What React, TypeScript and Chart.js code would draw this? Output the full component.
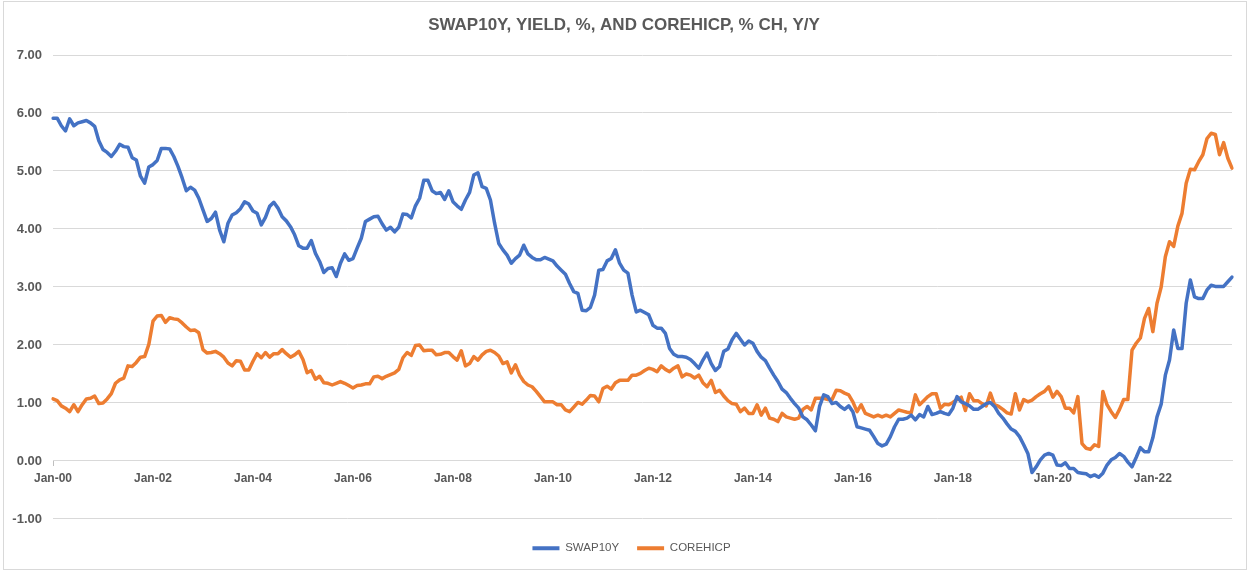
import React, { useEffect, useRef } from 'react';
import { Chart, registerables } from 'chart.js';

Chart.register(...registerables);

// ---------- data ----------
const TITLE = 'SWAP10Y, YIELD, %, AND COREHICP, % CH, Y/Y';
const MONTH_NAMES = ['Jan', 'Feb', 'Mar', 'Apr', 'May', 'Jun', 'Jul', 'Aug', 'Sep', 'Oct', 'Nov', 'Dec'];
const FIRST_YEAR = 2000;
const SERIES_NAMES = ['SWAP10Y', 'COREHICP'];

// SWAP10Y, yield %, monthly Jan-00 .. Aug-23
const swap10y = [
  5.91, 5.91, 5.78, 5.69, 5.90, 5.78, 5.83, 5.85, 5.87, 5.83,
  5.77, 5.52, 5.37, 5.32, 5.25, 5.34, 5.46, 5.42, 5.41, 5.23,
  5.19, 4.91, 4.79, 5.07, 5.11, 5.18, 5.39, 5.39, 5.38, 5.25,
  5.08, 4.88, 4.66, 4.72, 4.67, 4.53, 4.33, 4.13, 4.18, 4.29,
  3.98, 3.78, 4.10, 4.24, 4.28, 4.35, 4.47, 4.43, 4.31, 4.27,
  4.07, 4.20, 4.39, 4.46, 4.36, 4.21, 4.14, 4.04, 3.90, 3.71,
  3.67, 3.67, 3.80, 3.58, 3.44, 3.25, 3.32, 3.33, 3.18, 3.41,
  3.57, 3.46, 3.49, 3.67, 3.84, 4.13, 4.17, 4.21, 4.22, 4.09,
  3.98, 4.03, 3.95, 4.03, 4.26, 4.25, 4.19, 4.40, 4.53, 4.84,
  4.84, 4.66, 4.61, 4.63, 4.51, 4.66, 4.47, 4.40, 4.34, 4.50,
  4.63, 4.93, 4.97, 4.73, 4.70, 4.50, 4.10, 3.75, 3.64, 3.55,
  3.41, 3.49, 3.55, 3.72, 3.57, 3.51, 3.47, 3.47, 3.51, 3.48,
  3.45, 3.36, 3.29, 3.22, 3.06, 2.92, 2.89, 2.60, 2.59, 2.65,
  2.86, 3.29, 3.30, 3.45, 3.49, 3.64, 3.41, 3.29, 3.24, 2.86,
  2.57, 2.60, 2.56, 2.52, 2.34, 2.29, 2.29, 2.20, 1.94, 1.84,
  1.80, 1.80, 1.79, 1.75, 1.68, 1.60, 1.74, 1.86, 1.68, 1.56,
  1.63, 1.89, 1.93, 2.09, 2.20, 2.10, 2.00, 2.07, 2.03, 1.89,
  1.79, 1.73, 1.60, 1.48, 1.37, 1.24, 1.18, 1.08, 0.99, 0.91,
  0.76, 0.71, 0.62, 0.52, 0.94, 1.14, 1.11, 0.99, 1.01, 0.94,
  0.89, 0.95, 0.85, 0.59, 0.57, 0.55, 0.53, 0.42, 0.30, 0.26,
  0.29, 0.42, 0.59, 0.72, 0.72, 0.74, 0.79, 0.71, 0.80, 0.76,
  0.94, 0.80, 0.82, 0.85, 0.82, 0.80, 0.91, 1.11, 1.02, 0.99,
  0.95, 0.89, 0.89, 0.94, 0.99, 1.01, 0.94, 0.82, 0.74, 0.64,
  0.55, 0.51, 0.42, 0.28, 0.13, -0.20, -0.10, 0.02, 0.10, 0.13,
  0.10, -0.07, -0.08, -0.03, -0.13, -0.13, -0.20, -0.21, -0.22, -0.27,
  -0.24, -0.28, -0.21, -0.07, 0.02, 0.06, 0.13, 0.08, -0.02, -0.10,
  0.06, 0.23, 0.16, 0.16, 0.40, 0.76, 0.98, 1.48, 1.74, 2.26,
  1.94, 1.94, 2.72, 3.12, 2.83, 2.80, 2.80, 2.95, 3.03, 3.01,
  3.01, 3.01, 3.09, 3.17,
];

// COREHICP, % ch y/y, monthly Jan-00 .. Aug-23
const coreHicp = [
  1.07, 1.04, 0.95, 0.91, 0.85, 0.97, 0.85, 0.97, 1.07, 1.08,
  1.12, 0.99, 1.00, 1.07, 1.16, 1.34, 1.40, 1.43, 1.64, 1.63,
  1.70, 1.79, 1.80, 2.01, 2.41, 2.50, 2.51, 2.39, 2.47, 2.45,
  2.44, 2.38, 2.31, 2.25, 2.26, 2.21, 1.92, 1.86, 1.87, 1.89,
  1.85, 1.79, 1.69, 1.64, 1.73, 1.72, 1.57, 1.57, 1.72, 1.85,
  1.78, 1.87, 1.79, 1.85, 1.85, 1.92, 1.85, 1.79, 1.83, 1.89,
  1.75, 1.52, 1.56, 1.41, 1.46, 1.35, 1.34, 1.31, 1.34, 1.37,
  1.34, 1.30, 1.26, 1.30, 1.31, 1.33, 1.33, 1.45, 1.46, 1.42,
  1.46, 1.49, 1.52, 1.58, 1.78, 1.87, 1.82, 1.99, 2.00, 1.90,
  1.91, 1.91, 1.83, 1.84, 1.87, 1.87, 1.80, 1.74, 1.90, 1.64,
  1.68, 1.80, 1.74, 1.83, 1.89, 1.91, 1.87, 1.81, 1.68, 1.71,
  1.52, 1.66, 1.48, 1.37, 1.31, 1.28, 1.20, 1.11, 1.02, 1.02,
  1.02, 0.97, 0.97, 0.88, 0.85, 0.93, 1.01, 0.98, 1.05, 1.13,
  1.12, 1.02, 1.25, 1.29, 1.24, 1.35, 1.39, 1.39, 1.39, 1.48,
  1.48, 1.51, 1.56, 1.60, 1.58, 1.54, 1.64, 1.58, 1.54, 1.60,
  1.64, 1.45, 1.50, 1.48, 1.43, 1.48, 1.35, 1.28, 1.39, 1.18,
  1.22, 1.12, 1.04, 0.99, 0.98, 0.85, 0.91, 0.82, 0.82, 0.97,
  0.79, 0.91, 0.74, 0.72, 0.68, 0.82, 0.76, 0.74, 0.72, 0.74,
  0.89, 0.94, 0.88, 1.08, 1.08, 1.08, 1.06, 1.06, 1.22, 1.21,
  1.17, 1.14, 1.02, 0.85, 0.97, 0.82, 0.79, 0.76, 0.79, 0.76,
  0.79, 0.76, 0.82, 0.88, 0.86, 0.84, 0.83, 1.14, 0.97, 1.04,
  1.11, 1.16, 1.16, 0.91, 0.98, 0.97, 1.01, 1.06, 1.10, 0.87,
  1.16, 1.04, 1.04, 0.99, 0.95, 1.17, 0.97, 0.94, 0.89, 0.83,
  0.81, 1.16, 0.88, 1.06, 1.02, 1.05, 1.11, 1.16, 1.20, 1.28,
  1.10, 1.20, 1.11, 0.91, 0.91, 0.83, 1.11, 0.30, 0.22, 0.20,
  0.28, 0.25, 1.20, 0.97, 0.85, 0.75, 0.89, 1.06, 1.06, 1.91,
  2.03, 2.12, 2.46, 2.63, 2.23, 2.72, 3.00, 3.52, 3.78, 3.70,
  4.05, 4.27, 4.79, 5.03, 5.02, 5.16, 5.28, 5.56, 5.65, 5.63,
  5.28, 5.49, 5.22, 5.05,
];

// category labels: "Jan-00", "Feb-00", ...
const categories = swap10y.map((_, i) => {
  const yy = String((FIRST_YEAR + Math.floor(i / 12)) % 100).padStart(2, '0');
  return `${MONTH_NAMES[i % 12]}-${yy}`;
});
const LABEL_EVERY = 24; // Jan-00, Jan-02, ...
const Y_MIN = -1;
const Y_MAX = 7;
const Y_STEP = 1;

// ---------- styles ----------
const FONT = "'Liberation Sans', Arial, sans-serif";
const TEXT = '#595959';
const GRID = '#d9d9d9';
const BLUE = '#4472C4';
const ORANGE = '#ED7D31';

// nudge the centred legend and title a little to the right, as in the original
const centreNudge = {
  id: 'centreNudge',
  afterLayout(chart: any) {
    const l = chart.legend;
    if (l) {
      l.left += 11.5;
      l.right += 11.5;
    }
    const t = chart.titleBlock;
    if (t) {
      t.left += 4;
      t.right += 4;
    }
  },
};

export default function App() {
  const ref = useRef<HTMLCanvasElement>(null);

  useEffect(() => {
    document.body.style.margin = '0';
    document.body.style.overflow = 'hidden';
    const canvas = ref.current;
    if (!canvas) return;
    const chart = new Chart(canvas, {
      type: 'line',
      data: {
        labels: categories,
        datasets: [
          {
            label: SERIES_NAMES[0],
            data: swap10y,
            borderColor: BLUE,
            backgroundColor: BLUE,
            borderWidth: 3.5,
            pointRadius: 0,
            pointHoverRadius: 0,
            tension: 0,
            borderJoinStyle: 'round',
            borderCapStyle: 'round',
            fill: false,
          },
          {
            label: SERIES_NAMES[1],
            data: coreHicp,
            borderColor: ORANGE,
            backgroundColor: ORANGE,
            borderWidth: 3.5,
            pointRadius: 0,
            pointHoverRadius: 0,
            tension: 0,
            borderJoinStyle: 'round',
            borderCapStyle: 'round',
            fill: false,
          },
        ],
      },
      options: {
        responsive: false,
        animation: false,
        events: [],
        layout: { padding: { left: 8, right: 16, top: 0, bottom: 7 } },
        plugins: {
          title: {
            display: true,
            text: TITLE,
            color: TEXT,
            font: { family: FONT, size: 17, weight: 'bold' },
            padding: { top: 15.5, bottom: 19.1 },
          },
          legend: {
            position: 'bottom',
            fullSize: true,
            title: { display: true, text: ' ', padding: 0, font: { size: 4.6 } },
            labels: {
              boxWidth: 27,
              boxHeight: 4,
              padding: 18,
              color: TEXT,
              font: { family: FONT, size: 11.5 },
              generateLabels: (c: any) =>
                c.data.datasets.map((ds: any, i: number) => ({
                  text: ds.label,
                  fillStyle: ds.borderColor,
                  strokeStyle: ds.borderColor,
                  lineWidth: 0,
                  fontColor: TEXT,
                  hidden: false,
                  datasetIndex: i,
                })),
            },
          },
          tooltip: { enabled: false },
        },
        scales: {
          x: {
            type: 'category',
            position: { y: 0 },
            offset: false,
            grid: {
              drawOnChartArea: false,
              drawTicks: true,
              tickLength: 5,
              color: (ctx: any) => (ctx.index % LABEL_EVERY === 0 ? '#bfbfbf' : 'rgba(0,0,0,0)'),
            },
            border: { display: true, color: GRID, width: 1 },
            ticks: {
              autoSkip: false,
              maxRotation: 0,
              minRotation: 0,
              padding: 6,
              color: TEXT,
              font: { family: FONT, size: 12, weight: 'bold' },
              callback: (_v: any, i: number) => (i % LABEL_EVERY === 0 ? categories[i] : null),
            },
          },
          y: {
            min: Y_MIN,
            max: Y_MAX,
            afterFit: (s: any) => {
              s.width = 45;
            },
            grid: { color: GRID, lineWidth: 1, drawTicks: false },
            border: { display: false },
            ticks: {
              stepSize: Y_STEP,
              padding: 11,
              color: TEXT,
              font: { family: FONT, size: 13, weight: 'bold' },
              callback: (v: any) => Number(v).toFixed(2),
            },
          },
        },
      },
      plugins: [centreNudge],
    });
    return () => chart.destroy();
  }, []);

  return (
    <div style={{ position: 'relative', width: 1248, height: 571, background: '#ffffff' }}>
      <canvas
        ref={ref}
        width={1248}
        height={571}
        style={{ position: 'absolute', left: 0, top: 0, width: 1248, height: 571 }}
      />
      <div
        style={{
          position: 'absolute',
          left: 3,
          top: 1,
          width: 1242,
          height: 567,
          border: '1px solid #d9d9d9',
          pointerEvents: 'none',
        }}
      />
    </div>
  );
}
